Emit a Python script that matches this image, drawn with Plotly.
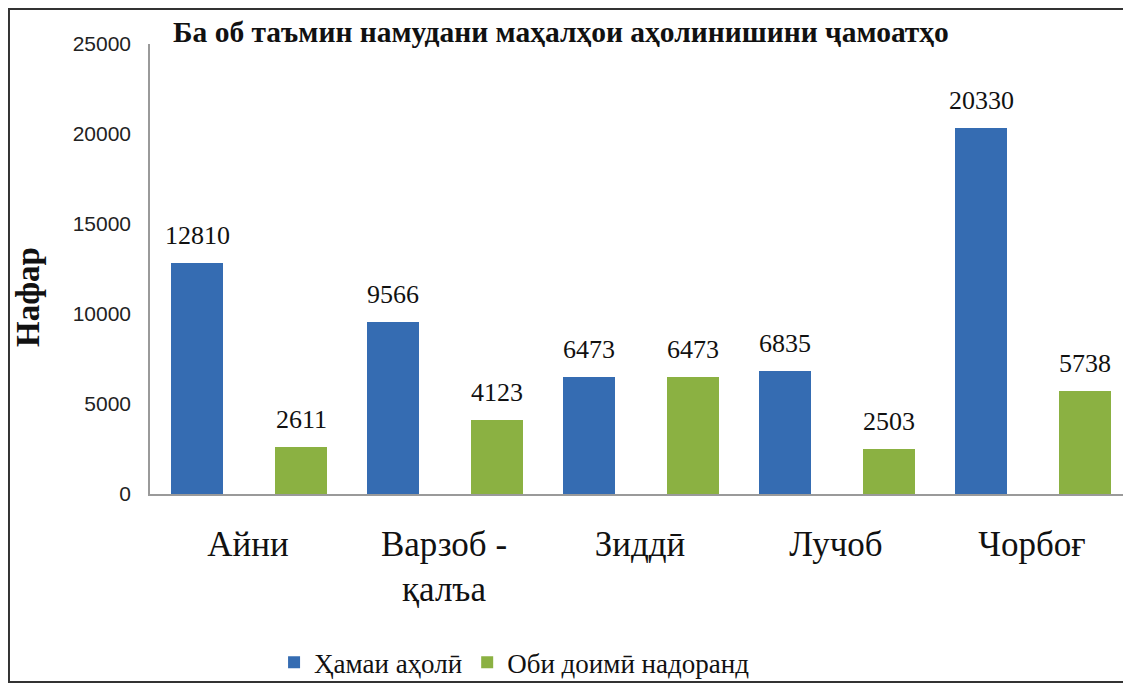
import plotly.graph_objects as go

# categories and values
districts = ['Айни', 'Варзоб -<br>қалъа', 'Зиддӣ', 'Лучоб', 'Чорбоғ']
total_pop = [12810, 9566, 6473, 6835, 20330]
no_water = [2611, 4123, 6473, 2503, 5738]

series_names = ['Ҳамаи аҳолӣ', 'Оби доимӣ надоранд']
y_ticks = [0, 5000, 10000, 15000, 20000, 25000]

title_text = 'Ба об таъмин намудани маҳалҳои аҳолинишини ҷамоатҳо'
y_title = 'Нафар'

serif = 'Liberation Serif, Times New Roman, serif'
sans = 'Liberation Sans Narrow, Liberation Sans, Arial, sans-serif'

blue = '#356cb2'
green = '#8bb142'

fig = go.Figure()

fig.add_trace(
    go.Bar(
        x=districts,
        y=total_pop,
        name=series_names[0],
        marker=dict(color=blue, line=dict(width=0)),
        width=0.265,
        offset=-0.393,
        hoverinfo='skip'
    )
)

fig.add_trace(
    go.Bar(
        x=districts,
        y=no_water,
        name=series_names[1],
        marker=dict(color=green, line=dict(width=0)),
        width=0.265,
        offset=0.138,
        hoverinfo='skip'
    )
)

# value labels above each bar
for values, shift in [(total_pop, -51), (no_water, 53)]:
    for cat, val in zip(districts, values):
        fig.add_annotation(
            x=cat,
            y=val,
            text=str(val),
            showarrow=False,
            xshift=shift,
            yshift=11,
            yanchor='bottom',
            font=dict(family=serif, size=26, color='#111111')
        )

fig.add_annotation(
    xref='paper', yref='paper',
    x=0.419, y=1.027,
    text=f'<b>{title_text}</b>',
    showarrow=False,
    xanchor='center', yanchor='middle',
    font=dict(family=serif, size=29.5, color='#111111')
)

fig.add_annotation(
    xref='paper', yref='paper',
    x=-0.1245, y=0.438,
    text=f'<b>{y_title}</b>',
    textangle=-90,
    showarrow=False,
    xanchor='center', yanchor='middle',
    font=dict(family=serif, size=33, color='#111111')
)

# outer frame of the chart picture
fig.add_shape(
    type='rect',
    xref='paper', yref='paper',
    x0=-0.1439, x1=1.01, y0=-0.4178, y1=1.0778,
    line=dict(color='#333333', width=2),
    layer='below'
)

# the page body has an 8px margin, so the figure is 8px smaller than the window
fig.update_layout(
    width=1123,
    height=676,
    margin=dict(l=142, r=1, t=36, b=190, autoexpand=False),
    paper_bgcolor='white',
    plot_bgcolor='white',
    showlegend=True,
    legend=dict(
        orientation='h',
        x=0.372, y=-0.375,
        xanchor='center', yanchor='middle',
        bgcolor='rgba(0,0,0,0)',
        font=dict(family=serif, size=27, color='#111111'),
        itemwidth=30,
        traceorder='normal'
    ),
    xaxis=dict(
        type='category',
        range=[-0.5, 4.5],
        showline=True,
        linecolor='#9a9a9a',
        linewidth=1.5,
        showgrid=False,
        ticks='',
        ticklabelstandoff=18,
        tickfont=dict(family=serif, size=35, color='#111111')
    ),
    yaxis=dict(
        range=[0, 25000],
        tickvals=y_ticks,
        ticktext=[str(v) for v in y_ticks],
        showline=True,
        linecolor='#9a9a9a',
        linewidth=1.5,
        showgrid=False,
        zeroline=False,
        ticks='',
        ticklabelstandoff=13,
        tickfont=dict(family=sans, size=21, color='#222222')
    ),
    bargap=0
)

fig.write_html('out.html')
